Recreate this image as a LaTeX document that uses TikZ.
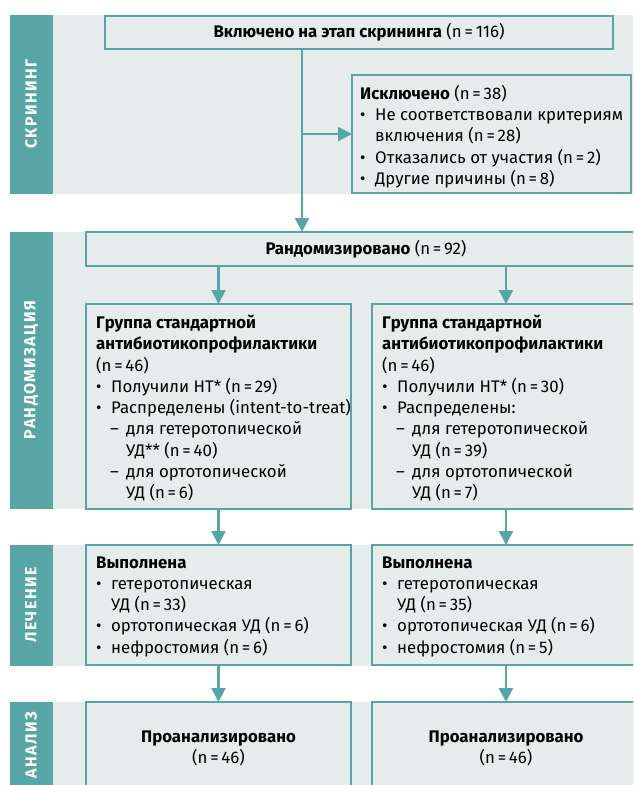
\documentclass[tikz,border=0pt]{standalone}
\usepackage{fontspec}
\setmainfont{Fira Sans}
\usetikzlibrary{arrows.meta}
\definecolor{tealc}{HTML}{57A6A5}
\definecolor{bandc}{HTML}{E6ECEC}
\newcommand\bul{\makebox[15pt][l]{•}}
\newcommand\ind{\hspace*{15pt}}
\newcommand\dsh{\hspace*{14pt}\makebox[16pt][l]{–}}
\newcommand\dind{\hspace*{30pt}}
\newcommand\nn[1]{(n\,=\,#1)}
\newcommand\tp{\rule{0pt}{13pt}}
\begin{document}
\begin{tikzpicture}[x=1pt,y=-1pt,
  box/.style={draw=tealc, line width=2.3pt, fill=bandc, inner sep=0pt, outer sep=0pt, anchor=north west},
  txt/.style={anchor=north west, inner sep=0pt, align=left, font=\fontsize{16.8}{21.25}\selectfont},
  ctxt/.style={inner sep=0pt, align=center, font=\fontsize{16.8}{21.25}\selectfont},
  arr/.style={draw=tealc, line width=2.3pt, -{Triangle[length=14pt,width=14pt]}},
  side/.style={rotate=90, text=white, inner sep=0pt, font=\fontsize{16}{16}\selectfont\bfseries\addfontfeature{LetterSpace=9}},
]
\useasboundingbox (0,0) rectangle (633,785);
\clip (0,0) rectangle (633,785);
% bands
\fill[bandc] (10,15) rectangle (633,194);
\fill[tealc] (10,15) rectangle (53,194);
\fill[bandc] (10,232) rectangle (633,509);
\fill[tealc] (10,232) rectangle (53,509);
\fill[bandc] (10,545) rectangle (633,666);
\fill[tealc] (10,545) rectangle (53,666);
\fill[bandc] (10,702) rectangle (633,785);
\fill[tealc] (10,702) rectangle (53,785);
% side labels
\node[side] (s1) at (31,104) {СКРИНИНГ};
\node[side] (s2) at (31,370) {РАНДОМИЗАЦИЯ};
\node[side] (s3) at (31,605) {ЛЕЧЕНИЕ};
\node[side] (s4) at (31,745) {АНАЛИЗ};
% boxes
\node[box, minimum width=508pt, minimum height=33pt] (incl) at (105,16) {};
\node[box, minimum width=279pt, minimum height=118pt] (excl) at (352,75) {};
\node[box, minimum width=560pt, minimum height=34pt] (rand) at (86,232) {};
\node[box, minimum width=265pt, minimum height=205pt] (grpL) at (86,304) {};
\node[box, minimum width=268pt, minimum height=205pt] (grpR) at (372,304) {};
\node[box, minimum width=265pt, minimum height=120pt] (trtL) at (86,545) {};
\node[box, minimum width=268pt, minimum height=120pt] (trtR) at (372,545) {};
\node[box, minimum width=265pt, minimum height=100pt] (anaL) at (86,702) {};
\node[box, minimum width=268pt, minimum height=100pt] (anaR) at (372,702) {};
% texts
\node[ctxt] (inclt) at (incl.center) {\textbf{Включено на этап скрининга} \nn{116}};
\node[txt] (exclt) at (360,85) {\tp\textbf{Исключено} \nn{38}\\
\bul Не соответствовали критериям\\
\ind включения \nn{28}\\
\bul Отказались от участия \nn{2}\\
\bul Другие причины \nn{8}};
\node[ctxt] (randt) at (rand.center) {\textbf{Рандомизировано} \nn{92}};
\node[txt] (grpLt) at (96,315) {\tp\textbf{Группа стандартной}\\
\textbf{антибиотикопрофилактики}\\
\nn{46}\\
\bul Получили НТ* \nn{29}\\
\bul Распределены (intent-to-treat)\\
\dsh для гетеротопической\\
\dind УД** \nn{40}\\
\dsh для ортотопической\\
\dind УД \nn{6}};
\node[txt] (grpRt) at (382,315) {\tp\textbf{Группа стандартной}\\
\textbf{антибиотикопрофилактики}\\
\nn{46}\\
\bul Получили НТ* \nn{30}\\
\bul Распределены:\\
\dsh для гетеротопической\\
\dind УД \nn{39}\\
\dsh для ортотопической\\
\dind УД \nn{7}};
\node[txt] (trtLt) at (96,555) {\tp\textbf{Выполнена}\\
\bul гетеротопическая\\
\ind УД \nn{33}\\
\bul ортотопическая УД \nn{6}\\
\bul нефростомия \nn{6}};
\node[txt] (trtRt) at (382,555) {\tp\textbf{Выполнена}\\
\bul гетеротопическая\\
\ind УД \nn{35}\\
\bul ортотопическая УД \nn{6}\\
\bul нефростомия \nn{5}};
\node[ctxt, anchor=north] (anaLt) at (218.5,729) {\tp\textbf{Проанализировано}\\ \nn{46}};
\node[ctxt, anchor=north] (anaRt) at (506,729) {\tp\textbf{Проанализировано}\\ \nn{46}};
% connectors
\coordinate (br) at (302,134);
\draw[draw=tealc, line width=2.3pt] (incl.south -| br) -- (br);
\draw[arr] (br) -- (rand.north -| br);
\draw[arr] (br) -- (excl.west);
\draw[arr] (rand.south -| grpL.north) -- (grpL.north);
\draw[arr] (rand.south -| grpR.north) -- (grpR.north);
\draw[arr] (grpL.south) -- (trtL.north);
\draw[arr] (grpR.south) -- (trtR.north);
\draw[arr] (trtL.south) -- (anaL.north);
\draw[arr] (trtR.south) -- (anaR.north);
\end{tikzpicture}
\end{document}
